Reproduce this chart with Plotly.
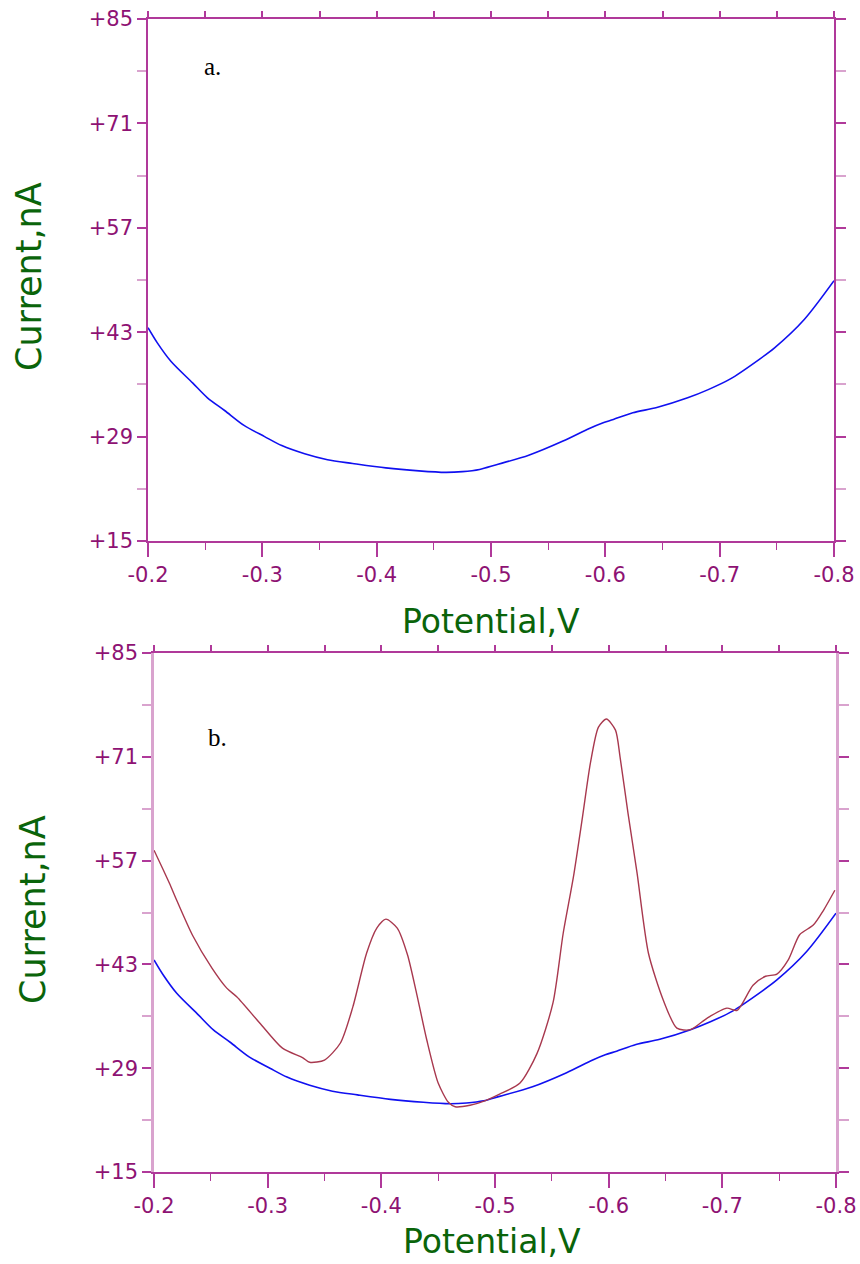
import plotly.graph_objects as go

# ---------------- data ----------------
BLUE_V = [-0.200, -0.208, -0.220, -0.239, -0.252, -0.267, -0.284, -0.302, -0.317, -0.337,
          -0.357, -0.379, -0.408, -0.437, -0.460, -0.475, -0.490, -0.504, -0.533, -0.563,
          -0.586, -0.597, -0.607, -0.624, -0.645, -0.672, -0.690, -0.709, -0.735, -0.748,
          -0.774, -0.800]
BLUE_I = [43.6, 41.6, 39.1, 36.2, 34.2, 32.5, 30.5, 29.0, 27.8, 26.7,
          25.9, 25.4, 24.8, 24.4, 24.2, 24.3, 24.6, 25.2, 26.5, 28.4,
          30.1, 30.8, 31.3, 32.2, 32.9, 34.2, 35.3, 36.7, 39.4, 40.9,
          44.7, 49.9]

RED_V = [-0.200, -0.208, -0.214, -0.219, -0.234, -0.251, -0.264, -0.273, -0.293, -0.313,
         -0.331, -0.337, -0.350, -0.364, -0.375, -0.387, -0.396, -0.404, -0.414, -0.423,
         -0.431, -0.440, -0.450, -0.459, -0.465, -0.478, -0.491, -0.504, -0.522, -0.537,
         -0.551, -0.560, -0.569, -0.577, -0.584, -0.591, -0.598, -0.606, -0.610, -0.617,
         -0.625, -0.635, -0.648, -0.660, -0.672, -0.687, -0.704, -0.713, -0.727, -0.738,
         -0.748, -0.758, -0.768, -0.780, -0.789, -0.799]
RED_I = [58.4, 55.8, 53.8, 52.0, 46.9, 42.5, 39.8, 38.6, 35.1, 31.7,
         30.4, 29.8, 30.1, 32.4, 37.3, 44.5, 47.9, 49.1, 47.9, 44.3,
         39.1, 32.8, 27.0, 24.4, 23.8, 24.0, 24.6, 25.5, 27.0, 31.0,
         37.8, 47.2, 54.8, 62.9, 70.2, 75.0, 76.1, 74.6, 71.0, 63.4,
         55.3, 44.5, 38.2, 34.4, 34.2, 35.8, 37.1, 36.8, 40.2, 41.4,
         41.7, 43.6, 47.0, 48.3, 50.3, 53.0]

X_MAJOR = [-0.2, -0.3, -0.4, -0.5, -0.6, -0.7, -0.8]
X_MAJOR_TEXT = ["-0.2", "-0.3", "-0.4", "-0.5", "-0.6", "-0.7", "-0.8"]
X_MINOR = [-0.25, -0.35, -0.45, -0.55, -0.65, -0.75]
X_TOP = [-0.2, -0.25, -0.3, -0.35, -0.4, -0.45, -0.5, -0.55, -0.6, -0.65, -0.7, -0.75, -0.8]
Y_MAJOR = [15, 29, 43, 57, 71, 85]
Y_MAJOR_TEXT = ["+15", "+29", "+43", "+57", "+71", "+85"]
Y_MINOR = [22, 36, 50, 64, 78]

X_TITLE = "Potential,V"
Y_TITLE = "Current,nA"
PANEL_LABELS = ["a.", "b."]

# ---------------- styling ----------------
W, H = 860, 1264
AXIS_DARK = "#B0399A"
AXIS_LIGHT = "#D9A3CE"
TICK_TXT = "#8E1273"
GREEN = "#0A640A"
BLUE = "#1010F0"
RED = "#A8384E"
FONT = "DejaVu Sans"


def px_x(p):
    return p / W


def px_y(p):
    return 1 - p / H


panels = [
    dict(x0=148, x1=834, y0=19, y1=541, left=AXIS_DARK, right=AXIS_DARK, lw=1.5),
    dict(x0=154, x1=836, y0=653, y1=1172, left=AXIS_LIGHT, right=AXIS_LIGHT, lw=2.5),
]

fig = go.Figure()

line_blue = dict(color=BLUE, width=1.6, shape="spline", smoothing=0.8)
line_red = dict(color=RED, width=1.4, shape="spline", smoothing=0.7)
fig.add_trace(go.Scatter(x=BLUE_V, y=BLUE_I, mode="lines", xaxis="x", yaxis="y",
                         line=line_blue, showlegend=False, hoverinfo="skip"))
fig.add_trace(go.Scatter(x=BLUE_V, y=BLUE_I, mode="lines", xaxis="x2", yaxis="y2",
                         line=line_blue, showlegend=False, hoverinfo="skip"))
fig.add_trace(go.Scatter(x=RED_V, y=RED_I, mode="lines", xaxis="x2", yaxis="y2",
                         line=line_red, showlegend=False, hoverinfo="skip"))
# dummy traces to activate the overlay (top/right tick) axes
fig.add_trace(go.Scatter(x=[None], y=[None], xaxis="x3", yaxis="y3", showlegend=False,
                         hoverinfo="skip"))
fig.add_trace(go.Scatter(x=[None], y=[None], xaxis="x4", yaxis="y4", showlegend=False,
                         hoverinfo="skip"))

layout = dict(width=W, height=H, margin=dict(l=0, r=0, t=0, b=0, autoexpand=False),
              paper_bgcolor="white", plot_bgcolor="white", showlegend=False)

for i, p in enumerate(panels):
    n = "" if i == 0 else "2"
    no = str(3 + i)
    xd = [px_x(p["x0"]), px_x(p["x1"])]
    yd = [px_y(p["y1"]), px_y(p["y0"])]
    layout["xaxis" + n] = dict(
        domain=xd, anchor="y" + n, range=[-0.2, -0.8], showgrid=False, zeroline=False,
        automargin=False,
        showline=True, linecolor=AXIS_DARK, linewidth=1.5, mirror=True,
        ticks="outside", ticklen=14, tickwidth=1.5, tickcolor=AXIS_DARK,
        tickvals=X_MAJOR, ticktext=X_MAJOR_TEXT,
        tickfont=dict(family=FONT, size=21, color=TICK_TXT),
        minor=dict(tickvals=X_MINOR, ticks="outside", ticklen=7, tickwidth=1.2,
                   tickcolor=AXIS_DARK, showgrid=False),
    )
    layout["yaxis" + n] = dict(
        domain=yd, anchor="x" + n, range=[15, 85], showgrid=False, zeroline=False,
        automargin=False,
        showline=True, linecolor=p["left"], linewidth=p["lw"], mirror=False,
        ticks="outside", ticklen=9, tickwidth=1.5, tickcolor=AXIS_DARK,
        tickvals=Y_MAJOR, ticktext=Y_MAJOR_TEXT,
        tickfont=dict(family=FONT, size=21, color=TICK_TXT),
        minor=dict(tickvals=Y_MINOR, ticks="outside", ticklen=9, tickwidth=1.5,
                   tickcolor=AXIS_LIGHT, showgrid=False),
    )
    # top ticks
    layout["xaxis" + no] = dict(
        overlaying="x" + n, side="top", anchor="y" + n, range=[-0.2, -0.8],
        automargin=False,
        showgrid=False, zeroline=False, showline=False, showticklabels=False,
        ticks="outside", ticklen=7, tickwidth=1.5, tickcolor=AXIS_DARK, tickvals=X_TOP,
    )
    # right ticks
    layout["yaxis" + no] = dict(
        overlaying="y" + n, side="right", anchor="x" + n, range=[15, 85],
        automargin=False,
        showgrid=False, zeroline=False, showline=True, linecolor=p["right"],
        linewidth=p["lw"], showticklabels=False,
        ticks="outside", ticklen=10, tickwidth=1.5, tickcolor=AXIS_DARK, tickvals=Y_MAJOR,
        minor=dict(tickvals=Y_MINOR, ticks="outside", ticklen=10, tickwidth=2,
                   tickcolor=AXIS_LIGHT, showgrid=False),
    )

annotations = []
title_pos = [dict(cur=(29, 277), pot=(491, 621), lab=(212, 67)),
             dict(cur=(33, 910), pot=(492, 1241), lab=(217, 737))]
for i, tp in enumerate(title_pos):
    annotations.append(dict(text=Y_TITLE, xref="paper", yref="paper",
                            x=px_x(tp["cur"][0]), y=px_y(tp["cur"][1]),
                            xanchor="center", yanchor="middle", textangle=-90, showarrow=False,
                            font=dict(family=FONT, size=35, color=GREEN)))
    annotations.append(dict(text=X_TITLE, xref="paper", yref="paper",
                            x=px_x(tp["pot"][0]), y=px_y(tp["pot"][1]),
                            xanchor="center", yanchor="middle", showarrow=False,
                            font=dict(family=FONT, size=33, color=GREEN)))
    annotations.append(dict(text=PANEL_LABELS[i], xref="paper", yref="paper",
                            x=px_x(tp["lab"][0]), y=px_y(tp["lab"][1]),
                            xanchor="center", yanchor="middle", showarrow=False,
                            font=dict(family="Liberation Serif", size=25, color="black")))

layout["annotations"] = annotations
fig.update_layout(**layout)
fig.write_html(
    "out.html",
    config={"displayModeBar": False},
    post_script="document.body.style.margin='0px';document.body.style.padding='0px';"
                "document.documentElement.style.overflow='hidden';",
)
